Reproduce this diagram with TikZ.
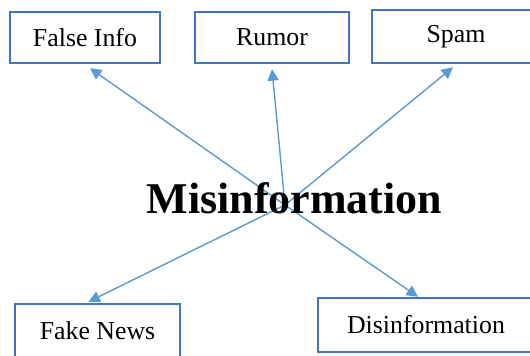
\documentclass[tikz,border=0pt]{standalone}
\usepackage{fontspec}
\setmainfont{Liberation Serif}
\usetikzlibrary{arrows.meta,calc}
\definecolor{boxblue}{HTML}{4472C4}
\definecolor{lineblue}{HTML}{5B9BD5}

\begin{document}
\begin{tikzpicture}[x=0.02cm,y=-0.02cm]
\tikzstyle{box}=[rectangle, draw=boxblue, line width=1.4pt, inner sep=0pt, font=\fontsize{14.7}{17}\selectfont]
\tikzstyle{connect}=[-{Triangle[length=6.5pt,width=6.5pt]}, draw=lineblue, fill=lineblue, line width=0.8pt]
\tikzstyle{title}=[inner sep=0pt, anchor=base, font=\fontsize{25}{30}\selectfont\bfseries]
\clip (0,0) rectangle (530,355);
  \node[box, minimum width=3cm, minimum height=1.02cm] (falseinfo) at (85,37.5) {False Info};
  \node[box, minimum width=3.08cm, minimum height=1.02cm] (rumor) at (272,37.5) {Rumor};
  \node[box, minimum width=3.36cm, minimum height=1.06cm] (spam) at (456,36.5) {Spam};
  \node[box, minimum width=3.3cm, minimum height=1.08cm] (fakenews) at (97.5,331) {Fake News};
  \node[box, minimum width=4.32cm, minimum height=1.08cm] (disinfo) at (426,325) {Disinformation};
  \coordinate (hub) at (285,205);
  \path (hub) edge [connect] ($(falseinfo.south)+(5,4)$)
        (hub) edge [connect] ($(rumor.south)+(0,5)$)
        (hub) edge [connect] ($(spam.south)+(-3,3)$)
        (hub) edge [connect] ($(fakenews.north)+(-9,-1)$)
        (hub) edge [connect] ($(disinfo.north)+(-8,0)$);
  \node[title] (misinfo) at (294.5,213) {Misinformation};
\end{tikzpicture}
\end{document}
